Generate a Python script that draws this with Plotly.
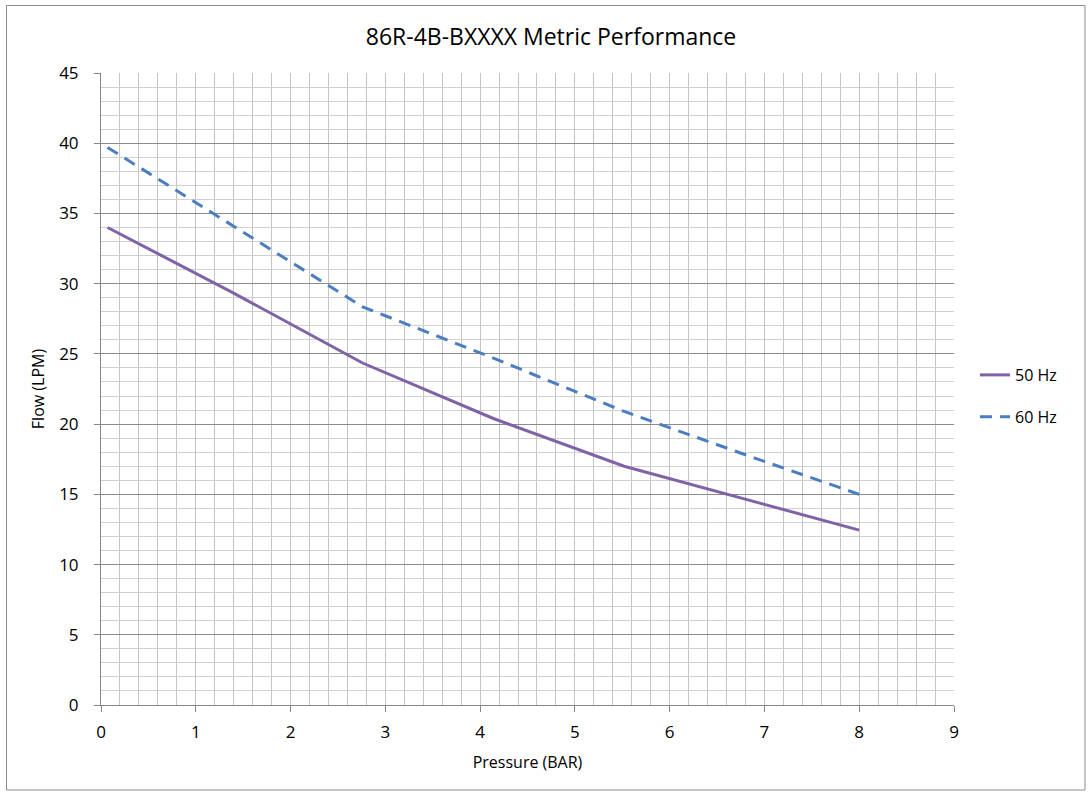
import plotly.graph_objects as go

pressure_bar = [0.069, 1.38, 2.76, 4.14, 5.52, 6.89, 8.0]
flow_50hz = [34.0, 29.4, 24.35, 20.4, 17.0, 14.5, 12.45]
flow_60hz = [39.7, 34.2, 28.35, 24.7, 20.9, 17.6, 15.0]

title_text = "86R-4B-BXXXX Metric Performance"
x_title = "Pressure (BAR)"
y_title = "Flow (LPM)"

W, H = 1090, 795
L, R, T, B = 101, 136, 73, 90
pw, ph = W - L - R, H - T - B

font_family = "Open Sans, Liberation Sans, Arial, sans-serif"

fig = go.Figure()
fig.add_trace(go.Scatter(x=pressure_bar, y=flow_50hz, mode="lines", name="50 Hz",
                         legendgroup="a",
                         line=dict(color="#7F63A6", width=3)))
fig.add_trace(go.Scatter(x=pressure_bar, y=flow_60hz, mode="lines", name="60 Hz",
                         legendgroup="b",
                         line=dict(color="#4A7EC0", width=3, dash="12px,8px")))

def px_to_paper_x(px):
    return (px - L) / pw

def px_to_paper_y(py):
    return (H - B - py) / ph

fig.update_layout(
    width=W, height=H,
    margin=dict(l=L, r=R, t=T, b=B),
    paper_bgcolor="white", plot_bgcolor="white",
    font=dict(family=font_family, size=16, color="#000000"),
    title=dict(text=title_text, x=px_to_paper_x(551), xref="paper", xanchor="center",
               y=1 - 37 / H, yanchor="middle", font=dict(size=23)),
    showlegend=True,
    legend=dict(x=px_to_paper_x(975), y=px_to_paper_y(396), xanchor="left", yanchor="middle",
                font=dict(size=16), bgcolor="rgba(0,0,0,0)", tracegroupgap=18,
                traceorder="grouped", itemwidth=30),
    xaxis=dict(range=[0, 9], dtick=1, tick0=0, showgrid=True, gridcolor="#c4c4c4", gridwidth=1,
               minor=dict(dtick=0.2, showgrid=True, gridcolor="#c4c4c4", gridwidth=1),
               showline=True, linecolor="#868686", linewidth=1,
               ticks="outside", ticklen=6, tickcolor="#868686",
               ticklabelstandoff=6,
               zeroline=False, title=dict(text=x_title, standoff=14, font=dict(size=16)),
               tickfont=dict(size=17), fixedrange=True),
    yaxis=dict(range=[0, 45], dtick=5, tick0=0, showgrid=True, gridcolor="#8c8c8c", gridwidth=1,
               minor=dict(dtick=1, showgrid=True, gridcolor="#d0d0d0", gridwidth=1),
               showline=True, linecolor="#868686", linewidth=1,
               ticks="outside", ticklen=6, tickcolor="#868686",
               ticklabelstandoff=12,
               zeroline=False, title=dict(text=y_title, standoff=10, font=dict(size=16)),
               tickfont=dict(size=17), fixedrange=True),
    shapes=[dict(type="rect", xref="paper", yref="paper",
                 x0=px_to_paper_x(6.5), x1=px_to_paper_x(1085), y0=px_to_paper_y(790), y1=px_to_paper_y(5.5),
                 line=dict(color="#8c8c8c", width=1), fillcolor="rgba(0,0,0,0)", layer="below")],
)

fig.write_html("out.html", config={"displayModeBar": False},
               post_script="document.body.style.margin='0';document.body.style.overflow='hidden';")
